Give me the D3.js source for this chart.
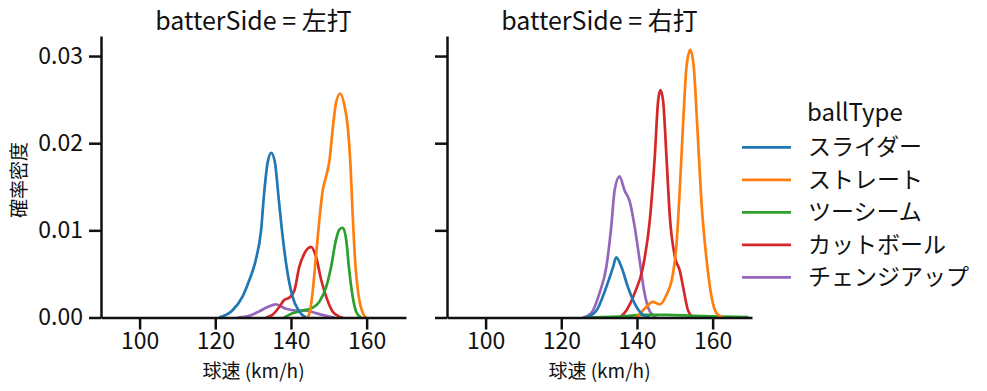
<!DOCTYPE html>
<html>
<head>
    <meta charset="utf-8">
    <title>球速 KDE</title>
    <style>
        body { margin: 0; background: #fff; }
        text { font-family: "Noto Sans CJK JP", "Noto Sans", sans-serif; fill: #111; }
    </style>
</head>
<body>
    <svg width="987" height="391"></svg>
    <script src="https://cdn.jsdelivr.net/npm/d3@7"></script>
    <script>

    // data: [球速 km/h, density]
    var ballTypes = ["スライダー", "ストレート", "ツーシーム", "カットボール", "チェンジアップ"],
        sides = ["左打", "右打"],
        xTicks = [100, 120, 140, 160],
        yTicks = [0, 0.01, 0.02, 0.03];

    var lhSlider = [[121.0, 0], [124.5, 0.0008], [127.2, 0.0024], [129.0, 0.0043], [130.7, 0.0066],
        [132.1, 0.0100], [132.9, 0.0142], [133.8, 0.0177], [134.8, 0.0189], [135.8, 0.0177],
        [136.7, 0.0139], [137.8, 0.0093], [139.1, 0.0051], [140.4, 0.0024], [142.2, 0.0007], [144.0, 0]];
    var lhStraight = [[144.4, 0], [144.9, 0.0005], [145.7, 0.0028], [146.6, 0.0070], [147.5, 0.0112],
        [148.4, 0.0146], [149.3, 0.0162], [150.2, 0.0181], [151.0, 0.0215], [151.9, 0.0246],
        [153.0, 0.0257], [154.1, 0.0244], [155.0, 0.0219], [155.7, 0.0177], [156.3, 0.0119],
        [157.0, 0.0062], [157.9, 0.0024], [159.0, 0.0005], [159.9, 0]];
    var lhTwoSeam = [[138.2, 0], [140.4, 0.0005], [143.1, 0.0008], [145.7, 0.0011], [147.5, 0.0018],
        [149.3, 0.0035], [150.6, 0.0058], [151.9, 0.0089], [152.8, 0.0101], [153.7, 0.0103],
        [154.6, 0.0089], [155.4, 0.0054], [156.3, 0.0024], [157.2, 0.0007], [158.5, 0]];
    var lhCutter = [[133.4, 0], [135.1, 0.0003], [136.9, 0.0012], [138.2, 0.0020], [139.6, 0.0023],
        [140.9, 0.0031], [142.2, 0.0058], [143.5, 0.0073], [145.3, 0.0081], [146.6, 0.0070],
        [148.0, 0.0043], [149.3, 0.0024], [151.0, 0.0007], [152.8, 0.0001], [153.7, 0]];
    var lhChangeup = [[125.9, 0], [129.0, 0.0002], [131.6, 0.0007], [133.8, 0.0012], [136.0, 0.0015],
        [138.7, 0.0010], [141.3, 0.0008], [144.0, 0.0008], [146.6, 0.0005], [149.3, 0.0002], [151.5, 0]];

    var rhSlider = [[126.6, 0], [129.3, 0.0008], [131.9, 0.0035], [133.7, 0.0058], [134.5, 0.0069],
        [135.9, 0.0058], [137.6, 0.0035], [139.4, 0.0016], [141.6, 0.0003], [143.4, 0]];
    var rhStraight = [[139.8, 0], [142.0, 0.0010], [144.2, 0.0018], [146.0, 0.0015], [147.8, 0.0026],
        [149.5, 0.0050], [150.4, 0.0081], [151.3, 0.0146], [152.2, 0.0223], [153.1, 0.0288],
        [154.1, 0.0307], [155.0, 0.0288], [155.9, 0.0223], [157.0, 0.0135], [158.4, 0.0066],
        [159.7, 0.0024], [161.0, 0.0005], [162.8, 0]];
    var rhTwoSeam = [[126.0, 0], [135.0, 0.0001], [142.0, 0.0003], [148.0, 0.0003], [155.0, 0.0002],
        [162.0, 0.0001], [169.5, 0.00005]];
    var rhCutter = [[135.4, 0], [137.2, 0.0008], [139.4, 0.0028], [141.6, 0.0058], [143.4, 0.0112],
        [144.7, 0.0184], [145.6, 0.0249], [146.2, 0.0261], [146.9, 0.0249], [147.8, 0.0184],
        [148.7, 0.0115], [150.0, 0.0070], [151.3, 0.0054], [152.2, 0.0035], [153.5, 0.0008], [154.8, 0]];
    var rhChangeup = [[125.7, 0], [127.9, 0.0005], [130.1, 0.0028], [131.9, 0.0058], [133.2, 0.0104],
        [134.1, 0.0146], [135.4, 0.0162], [136.7, 0.0146], [138.1, 0.0133], [139.4, 0.0104],
        [140.7, 0.0066], [142.0, 0.0028], [143.4, 0.0007], [145.1, 0]];

    var panels = [
        [lhSlider, lhStraight, lhTwoSeam, lhCutter, lhChangeup],
        [rhSlider, rhStraight, rhTwoSeam, rhCutter, rhChangeup]
    ];

    var colors = ["#1f77b4", "#ff7f0e", "#2ca02c", "#d62728", "#9467bd"];

    var svg = d3.select("svg"),
        plotTop = 36, plotBottom = 317.5,
        lefts = [101, 447], plotW = 305;

    var y = d3.scaleLinear().domain([0, 0.0323]).range([plotBottom, plotTop]);

    sides.forEach(function(side, p) {
        var x = d3.scaleLinear().domain([89.8, 170.4]).range([lefts[p], lefts[p] + plotW]);
        var g = svg.append("g");

        var line = d3.line()
            .x(function(d) { return x(d[0]); })
            .y(function(d) { return y(d[1]); })
            .curve(d3.curveMonotoneX);

        // seaborn draws the last hue first
        for (var i = ballTypes.length - 1; i >= 0; i--) {
            g.append("path")
                .datum(panels[p][i])
                .attr("fill", "none")
                .attr("stroke", colors[i])
                .attr("stroke-width", 2.7)
                .attr("stroke-linejoin", "round")
                .attr("d", line);
        }

        var xAxis = d3.axisBottom(x).tickValues(xTicks).tickSize(12).tickPadding(3).tickSizeOuter(0);
        var yAxis = d3.axisLeft(y).tickValues(yTicks).tickSize(12).tickPadding(6).tickSizeOuter(0)
            .tickFormat(p === 0 ? d3.format(".2f") : "");

        var gx = g.append("g")
            .attr("transform", "translate(0," + plotBottom + ")")
            .call(xAxis);
        var gy = g.append("g")
            .attr("transform", "translate(" + lefts[p] + ",0)")
            .call(yAxis);

        [gx, gy].forEach(function(a) {
            a.selectAll(".domain, line").attr("stroke", "#111").attr("stroke-width", 2.5);
            a.selectAll("text").attr("font-size", 23).attr("fill", "#111")
                .style("font-family", "'Noto Sans CJK JP', sans-serif");
        });

        g.append("text")
            .attr("x", lefts[p] + plotW / 2)
            .attr("y", 30)
            .attr("text-anchor", "middle")
            .attr("font-size", 25)
            .text("batterSide = " + side);

        g.append("text")
            .attr("x", lefts[p] + plotW / 2)
            .attr("y", 378)
            .attr("text-anchor", "middle")
            .attr("font-size", 19)
            .text("球速 (km/h)");
    });

    svg.append("text")
        .attr("transform", "translate(26,180) rotate(-90)")
        .attr("text-anchor", "middle")
        .attr("font-size", 19)
        .text("確率密度");

    // legend
    var legend = svg.append("g").attr("transform", "translate(742,0)");
    legend.append("text")
        .attr("x", 65).attr("y", 121)
        .attr("font-size", 24)
        .text("ballType");

    ballTypes.forEach(function(name, i) {
        var ly = 147.3 + i * 32.5;
        legend.append("line")
            .attr("x1", 0).attr("x2", 49)
            .attr("y1", ly).attr("y2", ly)
            .attr("stroke", colors[i])
            .attr("stroke-width", 2.7);
        legend.append("text")
            .attr("x", 66).attr("y", ly)
            .attr("dy", "0.35em")
            .attr("font-size", 23)
            .text(name);
    });

    </script>
</body>
</html>
